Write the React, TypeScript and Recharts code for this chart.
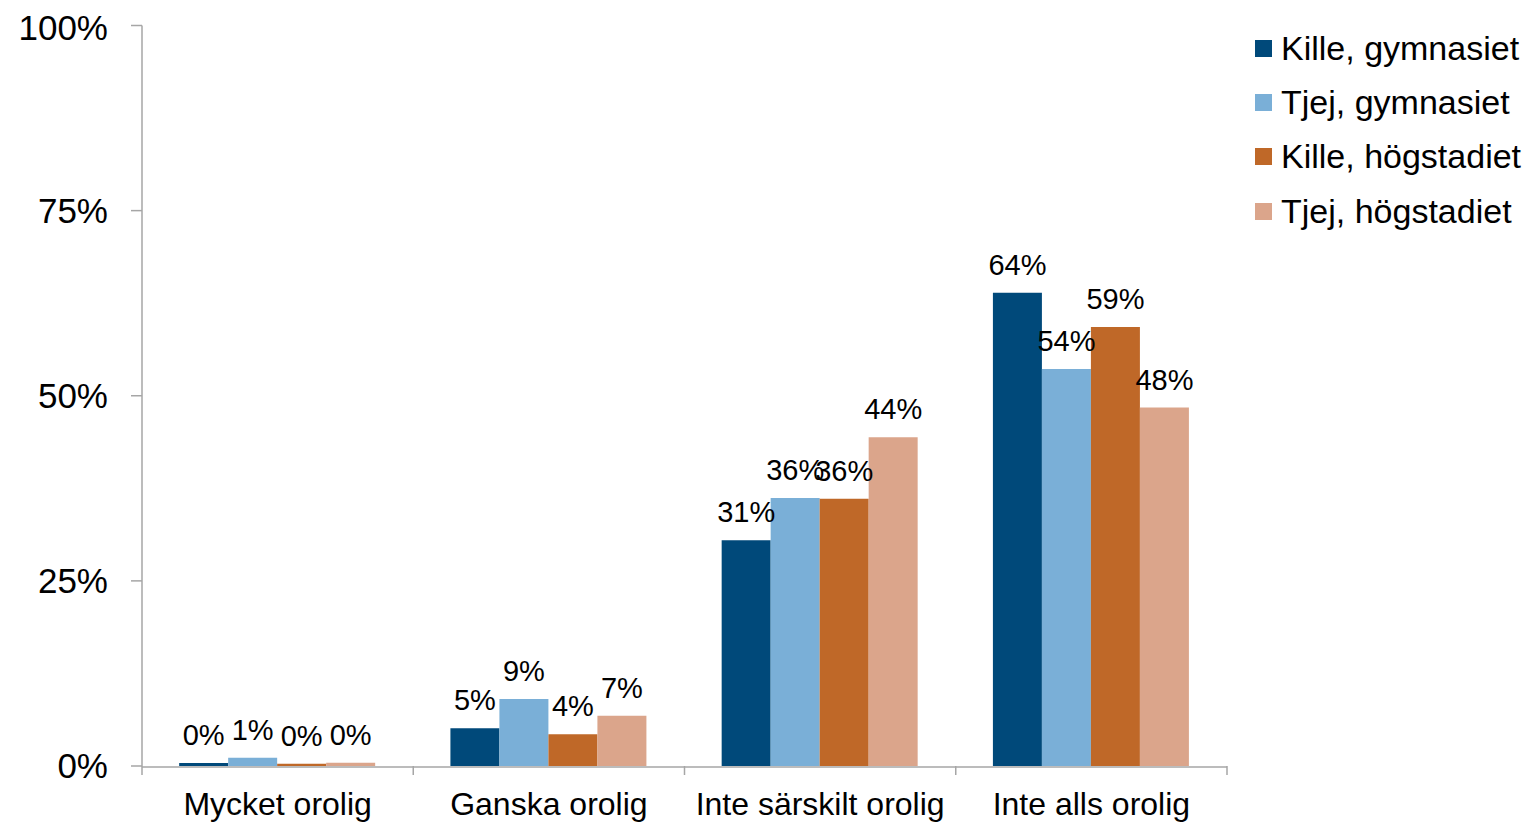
import { Bar, BarChart, LabelList, Legend, XAxis, YAxis } from "recharts";

const categories = [
  "Mycket orolig",
  "Ganska orolig",
  "Inte särskilt orolig",
  "Inte alls orolig",
];
const killeGymnasiet = [0.4, 5.1, 30.5, 63.9];
const tjejGymnasiet = [1.1, 9.05, 36.2, 53.6];
const killeHogstadiet = [0.3, 4.3, 36.1, 59.3];
const tjejHogstadiet = [0.45, 6.8, 44.4, 48.4];
const yTicks = [0, 25, 50, 75, 100];
const boundaryTicks = [0, 1, 2, 3, 4];

const series = [
  { key: "killeGym", name: "Kille, gymnasiet", color: "#00497A", values: killeGymnasiet },
  { key: "tjejGym", name: "Tjej, gymnasiet", color: "#7AAFD7", values: tjejGymnasiet },
  { key: "killeHog", name: "Kille, högstadiet", color: "#BF6828", values: killeHogstadiet },
  { key: "tjejHog", name: "Tjej, högstadiet", color: "#DBA58B", values: tjejHogstadiet },
];

const data = categories.map((category, i) => {
  const row: Record<string, string | number> = { category, idx: i };
  series.forEach((s) => {
    row[s.key] = s.values[i];
  });
  return row;
});

const FONT = '"Liberation Sans", Arial, sans-serif';
const AXIS_COLOR = "#A6A6A6";

function LegendContent() {
  return (
    <div style={{ fontFamily: FONT }}>
      {series.map((s) => (
        <div
          key={s.key}
          style={{ display: "flex", alignItems: "center", height: 54.3 }}
        >
          <span
            style={{
              width: 17,
              height: 17,
              backgroundColor: s.color,
              display: "inline-block",
              marginRight: 9,
            }}
          />
          <span style={{ fontSize: 34, color: "#000", whiteSpace: "nowrap" }}>
            {s.name}
          </span>
        </div>
      ))}
    </div>
  );
}

export default function App() {
  return (
    <div style={{ fontFamily: FONT }}>
      <BarChart
        width={1527}
        height={815}
        data={data}
        margin={{ top: 17.5, right: 28, left: 0, bottom: 0 }}
        barCategoryGap="13.7%"
        barGap={0}
      >
        <XAxis
          xAxisId="bounds"
          dataKey="idx"
          type="number"
          domain={[0, 4]}
          allowDataOverflow
          ticks={boundaryTicks}
          height={1}
          axisLine={false}
          tickLine={{ stroke: AXIS_COLOR, strokeWidth: 1.5 }}
          tickSize={9}
          tickFormatter={() => ""}
        />
        <XAxis
          xAxisId="cat"
          dataKey="category"
          height={56}
          tickLine={false}
          axisLine={{ stroke: AXIS_COLOR, strokeWidth: 1.5 }}
          tickSize={9}
          tickMargin={16}
          tick={{ fontSize: 32, fill: "#000", fontFamily: FONT }}
          interval={0}
        />
        <YAxis
          domain={[0, 100]}
          ticks={yTicks}
          width={134}
          tickSize={11}
          tickMargin={23}
          axisLine={{ stroke: AXIS_COLOR, strokeWidth: 1.5 }}
          tickLine={{ stroke: AXIS_COLOR, strokeWidth: 1.5 }}
          tick={{ fontSize: 35, fill: "#000", fontFamily: FONT }}
          tickFormatter={(v) => `${v}%`}
        />
        <Legend
          layout="vertical"
          align="right"
          verticalAlign="top"
          wrapperStyle={{ left: 1247, top: 13, width: 280 }}
          content={<LegendContent />}
        />
        {series.map((s) => (
          <Bar
            key={s.key}
            xAxisId="cat"
            dataKey={s.key}
            name={s.name}
            fill={s.color}
            isAnimationActive={false}
          >
            <LabelList
              dataKey={s.key}
              position="top"
              offset={18}
              formatter={(v: number) => `${Math.round(Number(v))}%`}
              style={{ fontSize: 29, fill: "#000", fontFamily: FONT }}
            />
          </Bar>
        ))}
      </BarChart>
    </div>
  );
}
